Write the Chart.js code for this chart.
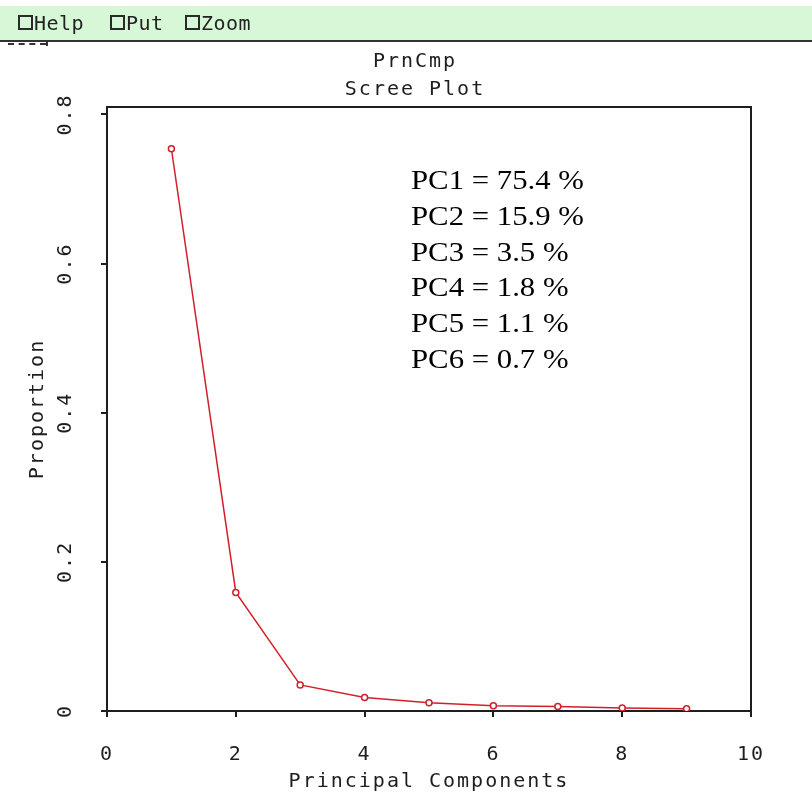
<!DOCTYPE html>
<html>
<head>
<meta charset="utf-8">
<title>PrnCmp Scree Plot</title>
<script src="https://cdn.jsdelivr.net/npm/chart.js@4/dist/chart.umd.min.js"></script>
<style>
  html, body { margin: 0; padding: 0; background: #fff; }
  #wrap { position: relative; width: 812px; height: 796px; overflow: hidden; }
  canvas { position: absolute; left: 0; top: 0; }
  #bar {
    position: absolute; left: 0; top: 6px; width: 812px; height: 34px;
    background: #d6f8d6; border-bottom: 2px solid #333;
    font: 20px "DejaVu Sans Mono", monospace; letter-spacing: 0.5px;
    color: #222; line-height: 34px;
  }
  #bar .cb {
    position: absolute; top: 9px; width: 11px; height: 11px;
    border: 2px solid #2a2a2a; background: transparent;
  }
  #bar .lbl { position: absolute; top: 0; }
  #dash {
    position: absolute; left: 8px; top: 43px; width: 38px; height: 0;
    border-top: 2px dashed #333;
  }
  #dash::after {
    content: ""; position: absolute; left: 38px; top: -3px; width: 2px; height: 4px; background: #333;
  }
</style>
</head>
<body>
<div id="wrap">
  <canvas id="scree" width="812" height="796"></canvas>
  <div id="bar">
    <span class="cb" style="left:18px"></span><span class="lbl" style="left:34px">Help</span>
    <span class="cb" style="left:110px"></span><span class="lbl" style="left:126px">Put</span>
    <span class="cb" style="left:185px"></span><span class="lbl" style="left:201px">Zoom</span>
  </div>
  <div id="dash"></div>
</div>
<script>
// Principal component index and the proportion of variance each explains
const components  = [1, 2, 3, 4, 5, 6, 7, 8, 9];
const proportions = [0.754, 0.159, 0.035, 0.018, 0.011, 0.007, 0.006, 0.004, 0.003];
const labeledCount = 6;               // components listed in the text block
const xTicks = [0, 2, 4, 6, 8, 10];
const yTicks = [0, 0.2, 0.4, 0.6, 0.8];
const titleLines = ['PrnCmp', 'Scree Plot'];

const INK = '#1e1e1e';
const RED = '#d21f2a';
const MONO = { family: 'DejaVu Sans Mono', size: 20, lineHeight: 1.2 };

// Wide, blocky look of the plotting font
const spacing = {
  id: 'spacing',
  beforeUpdate(chart) { chart.ctx.letterSpacing = '2px'; },
  beforeDraw(chart) { chart.ctx.letterSpacing = '2px'; }
};

// Box around the whole plotting region
const frame = {
  id: 'frame',
  beforeDatasetsDraw(chart) {
    const { ctx, chartArea: a } = chart;
    ctx.save();
    ctx.strokeStyle = INK;
    ctx.lineWidth = 2;
    ctx.strokeRect(a.left, a.top, a.right - a.left, a.bottom - a.top);
    ctx.restore();
  }
};

// Two-line heading above the plot
const headings = {
  id: 'headings',
  afterDraw(chart) {
    const ctx = chart.ctx;
    ctx.save();
    ctx.letterSpacing = '2px';
    ctx.font = '20px "DejaVu Sans Mono"';
    ctx.fillStyle = INK;
    ctx.textAlign = 'center';
    ctx.textBaseline = 'middle';
    ctx.fillText(titleLines[0], 415, 62);
    ctx.fillText(titleLines[1], 415, 90);
    ctx.restore();
  }
};

// Percentage list for the leading components
const percentList = {
  id: 'percentList',
  afterDraw(chart) {
    const ctx = chart.ctx;
    ctx.save();
    ctx.letterSpacing = '0px';
    ctx.font = '27px "Liberation Serif"';
    ctx.fillStyle = '#000';
    ctx.textBaseline = 'alphabetic';
    for (let i = 0; i < labeledCount; i++) {
      const txt = 'PC' + components[i] + ' = ' + (proportions[i] * 100).toFixed(1) + ' %';
      ctx.save();
      ctx.translate(411, 189 + i * 35.8);
      ctx.scale(1.14, 1);
      ctx.fillText(txt, 0, 0);
      ctx.restore();
    }
    ctx.restore();
  }
};

new Chart(document.getElementById('scree'), {
  type: 'scatter',
  data: {
    datasets: [{
      data: components.map((c, i) => ({ x: c, y: proportions[i] })),
      showLine: true,
      borderColor: RED,
      borderWidth: 1.5,
      tension: 0,
      pointRadius: 3,
      pointBorderWidth: 1.5,
      pointBorderColor: RED,
      pointBackgroundColor: '#fff'
    }]
  },
  options: {
    responsive: false,
    animation: false,
    events: [],
    layout: { padding: { top: 107, right: 61, left: 0, bottom: 0 } },
    plugins: { legend: { display: false }, tooltip: { enabled: false }, title: { display: false } },
    scales: {
      x: {
        type: 'linear', min: 0, max: 10,
        afterBuildTicks: s => { s.ticks = xTicks.map(v => ({ value: v })); },
        afterFit: s => { s.height = 85; },
        grid: { drawOnChartArea: false, drawTicks: true, tickLength: 6, lineWidth: 2, color: INK },
        border: { display: true, color: INK, width: 2 },
        ticks: { padding: 26, color: INK, font: MONO, maxRotation: 0, autoSkip: false, callback: v => String(v) },
        title: { display: true, text: 'Principal Components', color: INK, font: MONO, padding: { top: 0, bottom: 2 } }
      },
      y: {
        type: 'linear', min: 0, max: 0.81,
        afterBuildTicks: s => { s.ticks = yTicks.map(v => ({ value: v })); },
        afterFit: s => { s.width = 107; },
        grid: { drawOnChartArea: false, drawTicks: true, tickLength: 6, lineWidth: 2, color: INK },
        border: { display: true, color: INK, width: 2 },
        ticks: { padding: 14, color: INK, font: MONO, minRotation: 90, maxRotation: 90, crossAlign: 'center', autoSkip: false, callback: v => String(v) },
        title: { display: true, text: 'Proportion', color: INK, font: MONO, padding: { top: 26, bottom: 0 } }
      }
    }
  },
  plugins: [spacing, frame, headings, percentList]
});
</script>
</body>
</html>
